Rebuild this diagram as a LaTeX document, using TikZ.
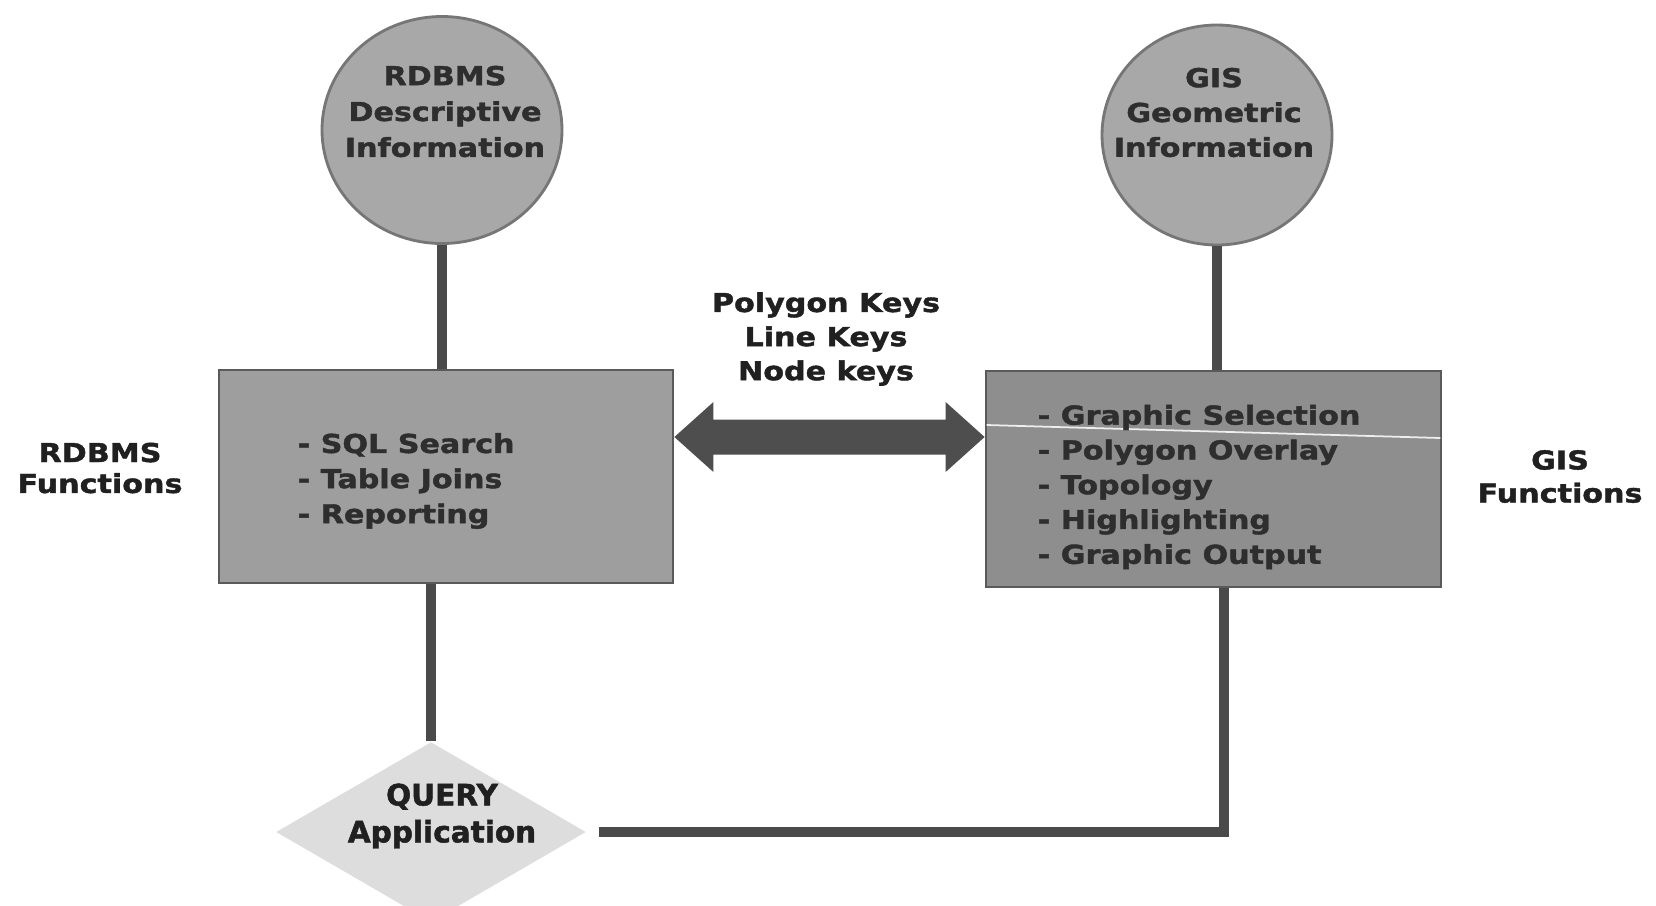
\documentclass[tikz,border=0pt]{standalone}
\usepackage{fontspec}
\newfontfamily\dfont{DejaVu Sans Bold}[FakeStretch=1.16,FakeBold=1.6]
\newfontfamily\qfont{DejaVu Sans Bold}[FakeBold=1.6]
\usetikzlibrary{shapes.geometric,calc}

\definecolor{circfill}{HTML}{A8A8A8}
\definecolor{circedge}{HTML}{767676}
\definecolor{boxLfill}{HTML}{9E9E9E}
\definecolor{boxRfill}{HTML}{8E8E8E}
\definecolor{boxedge}{HTML}{5A5A5A}
\definecolor{diamfill}{HTML}{DDDDDD}
\definecolor{inkline}{HTML}{4A4A4A}
\definecolor{arrowfill}{HTML}{4E4E4E}
\definecolor{labelink}{HTML}{202020}
\definecolor{intext}{HTML}{2E2E2E}

\begin{document}
\begin{tikzpicture}[x=0.1mm,y=-0.1mm,
  disc/.style={ellipse, fill=circfill, draw=circedge, line width=0.8pt, inner sep=0},
  panel/.style={rectangle, draw=boxedge, line width=0.8pt, inner sep=0},
  conn/.style={draw=inkline, line width=2.6pt},
  lbl/.style={font=\dfont\fontsize{7.4}{#1}\selectfont, align=center, inner sep=0, text=labelink},
  lbl/.default=10pt,
  qlbl/.style={font=\qfont\fontsize{8.4}{10.5pt}\selectfont, align=center, inner sep=0, text=labelink},
]
% page
\fill[white] (0,0) rectangle (1656,905);
\useasboundingbox (0,0) rectangle (1656,905);

% information sources
\node[disc, minimum width=24mm, minimum height=22.7mm] (circL) at (442,130) {};
\node[disc, minimum width=23mm, minimum height=22mm] (circR) at (1217,135) {};

% function panels
\node[panel, fill=boxLfill, minimum width=45.4mm, minimum height=21.3mm] (boxL) at (446,476.5) {};
\node[panel, fill=boxRfill, minimum width=45.5mm, minimum height=21.6mm] (boxR) at (1213.5,479) {};
\draw[white, line width=0.5pt, opacity=0.85]
  ($(boxR.west)+(2,-54)$) -- ($(boxR.east)+(-2,-41)$);

% query application
\node[diamond, fill=diamfill, minimum width=31mm, minimum height=18mm, inner sep=0] (diam) at (431,832) {};

% connectors
\draw[conn] (circL.south) -- (circL.south |- boxL.north);
\draw[conn] (circR.south) -- (circR.south |- boxR.north);
\draw[conn] (diam.north |- boxL.south) -- (diam.north);
\coordinate (bend) at (1224,832);
\draw[conn] (bend |- boxR.south) -- (bend) -- ($(diam.east)+(12,0)$);

% key exchange arrow
\coordinate (aL) at ($(boxL.east)+(0,-39.5)$);
\coordinate (aR) at ($(boxR.west)+(0,-42)$);
\fill[arrowfill] (aL) -- ++(39,-35) -- ++(0,17.5) -- ($(aR)+(-39,-17.5)$)
  -- ++(0,-17.5) -- (aR) -- ++(-39,35) -- ++(0,-17.5)
  -- ($(aL)+(39,17.5)$) -- ++(0,17.5) -- cycle;

% texts
\node[lbl=9.7pt] (keys) at (826,339) {Polygon Keys\\Line Keys\\Node keys};
\node[lbl=8.8pt] (rdbmsfn) at (100,468) {RDBMS\\Functions};
\node[lbl=9.4pt] (gisfn) at (1560,476.5) {GIS\\Functions};
\node[lbl=10.2pt, text=intext] (circLtxt) at (445,111.5) {RDBMS\\Descriptive\\Information};
\node[lbl=9.9pt, text=intext] (circRtxt) at (1214,112.5) {GIS\\Geometric\\Information};
\node[lbl=10pt, text=intext, align=left, anchor=west] (boxLtxt) at (297,481)
  {- SQL Search\\- Table Joins\\- Reporting};
\node[lbl=9.9pt, text=intext, align=left, anchor=west] (boxRtxt) at (1037,487)
  {- Graphic Selection\\- Polygon Overlay\\- Topology\\- Highlighting\\- Graphic Output};
\node[qlbl] (diamtxt) at (442,816) {QUERY\\Application};
\end{tikzpicture}
\end{document}
